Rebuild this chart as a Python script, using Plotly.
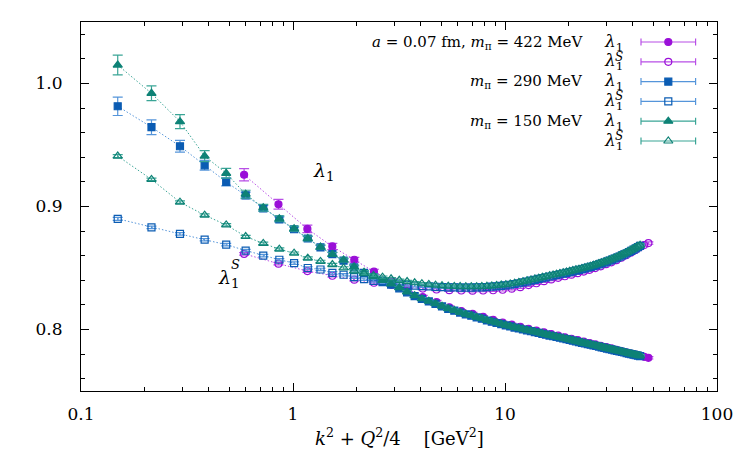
import plotly.graph_objects as go

# ---------------- data ----------------
x_grid = [0.149, 0.215, 0.293, 0.383, 0.484, 0.598, 0.724, 0.862, 1.012, 1.174,
          1.348, 1.534, 1.732, 1.942, 2.164, 2.398, 2.644, 2.902, 3.172, 3.454,
          3.748, 4.054, 4.372, 4.702, 5.045, 5.399, 5.765, 6.143, 6.533, 6.935,
          7.350, 7.776, 8.214, 8.664, 9.126, 9.601, 10.087, 10.585, 11.096, 11.618,
          12.152, 12.699, 13.257, 13.827, 14.410, 15.004, 15.610, 16.229, 16.859, 17.502,
          18.156, 18.823, 19.501, 20.192, 20.894, 21.609, 22.335, 23.074, 23.824, 24.587,
          25.361, 26.148, 26.946, 27.757, 28.580, 29.414, 30.261, 31.120, 31.990, 32.873,
          33.768, 34.674, 35.593, 36.524, 37.467, 38.421, 39.388, 40.367, 41.358, 42.361,
          43.375]

x_422 = [0.588, 0.854, 1.169, 1.533, 1.946, 2.409, 2.921, 3.482, 4.093, 4.752,
         5.462, 6.220, 7.028, 7.885, 8.791, 9.747, 10.752, 11.806, 12.910, 14.063,
         15.265, 16.516, 17.817, 19.167, 20.566, 22.015, 23.513, 25.060, 26.657, 28.302,
         29.998, 31.742, 33.536, 35.379, 37.271, 39.213, 41.204, 43.244, 45.333, 47.472]

# m_pi = 150 MeV
l1_150 = [1.015, 0.992, 0.969, 0.941, 0.927, 0.910, 0.899, 0.890, 0.882, 0.874,
          0.867, 0.861, 0.8565, 0.851, 0.8465, 0.843, 0.840, 0.837, 0.834, 0.8305,
          0.8275, 0.825, 0.823, 0.821, 0.819, 0.817, 0.8155, 0.814, 0.8125, 0.8115,
          0.810, 0.809, 0.8075, 0.8065, 0.8055, 0.8045, 0.8035, 0.8027, 0.8018, 0.801,
          0.8002, 0.7995, 0.7988, 0.7981, 0.7974, 0.7967, 0.7960, 0.7953, 0.7947, 0.7941,
          0.7935, 0.7929, 0.7923, 0.7917, 0.7911, 0.7905, 0.7899, 0.7894, 0.7888, 0.7883,
          0.7878, 0.7873, 0.7868, 0.7863, 0.7857, 0.7852, 0.7847, 0.7843, 0.7838, 0.7833,
          0.7828, 0.7824, 0.7819, 0.7815, 0.7810, 0.7806, 0.7801, 0.7797, 0.7793, 0.7789,
          0.7785]
l1_150_err = [0.008, 0.006, 0.0057, 0.0045, 0.004, 0.0032, 0.0027, 0.0024, 0.0021, 0.0019,
              0.0017, 0.0016, 0.0015, 0.0014, 0.0013, 0.0012, 0.0012, 0.0011, 0.0011, 0.001,
              0.001, 0.001, 0.001, 0.001, 0.001, 0.001, 0.001, 0.001, 0.001, 0.001,
              0.001, 0.001, 0.001, 0.001, 0.001, 0.001, 0.001, 0.001, 0.001, 0.001,
              0.001, 0.001, 0.001, 0.001, 0.001, 0.001, 0.001, 0.001, 0.001, 0.001,
              0.001, 0.001, 0.001, 0.001, 0.001, 0.001, 0.001, 0.001, 0.001, 0.001,
              0.001, 0.001, 0.001, 0.001, 0.001, 0.001, 0.001, 0.001, 0.001, 0.001,
              0.001, 0.001, 0.001, 0.001, 0.001, 0.001, 0.001, 0.001, 0.001, 0.001,
              0.001]
l1S_150 = [0.941, 0.922, 0.9035, 0.893, 0.885, 0.8756, 0.870, 0.8653, 0.862, 0.858,
           0.8553, 0.8528, 0.850, 0.8475, 0.8455, 0.844, 0.8425, 0.8412, 0.840, 0.839,
           0.838, 0.8372, 0.8366, 0.836, 0.8356, 0.8352, 0.835, 0.8349, 0.8348, 0.8348,
           0.8348, 0.8349, 0.8351, 0.8354, 0.8357, 0.8361, 0.8365, 0.837, 0.8376, 0.8382,
           0.8389, 0.8396, 0.8403, 0.841, 0.8417, 0.8424, 0.843, 0.8437, 0.8443, 0.8449,
           0.8455, 0.8461, 0.8467, 0.8473, 0.8479, 0.8485, 0.8491, 0.8497, 0.8503, 0.8509,
           0.8515, 0.8522, 0.8529, 0.8536, 0.8543, 0.855, 0.8558, 0.8566, 0.8574, 0.8582,
           0.859, 0.8599, 0.8608, 0.8617, 0.8626, 0.8636, 0.8646, 0.8656, 0.8666, 0.8676,
           0.8686]
l1S_150_err = [0.0012, 0.001, 0.001, 0.001, 0.001, 0.001, 0.001, 0.001, 0.001, 0.001,
               0.001, 0.001, 0.001, 0.001, 0.001, 0.001, 0.001, 0.001, 0.001, 0.001,
               0.001, 0.001, 0.001, 0.001, 0.001, 0.001, 0.001, 0.001, 0.001, 0.001,
               0.001, 0.001, 0.001, 0.001, 0.001, 0.001, 0.001, 0.001, 0.001, 0.001,
               0.001, 0.001, 0.001, 0.001, 0.001, 0.001, 0.001, 0.001, 0.001, 0.001,
               0.001, 0.001, 0.001, 0.001, 0.001, 0.001, 0.001, 0.001, 0.001, 0.001,
               0.001, 0.001, 0.001, 0.001, 0.001, 0.001, 0.001, 0.001, 0.001, 0.001,
               0.001, 0.001, 0.001, 0.001, 0.001, 0.001, 0.001, 0.001, 0.001, 0.001,
               0.001]

# m_pi = 290 MeV
l1_290 = [0.9815, 0.9645, 0.949, 0.9335, 0.920, 0.909, 0.8985, 0.8895, 0.8815, 0.874,
          0.8668, 0.8612, 0.856, 0.8505, 0.846, 0.8425, 0.8395, 0.8365, 0.8335, 0.8302,
          0.8272, 0.8248, 0.8228, 0.8208, 0.8188, 0.8168, 0.8153, 0.8138, 0.8123, 0.8112,
          0.8098, 0.8088, 0.8073, 0.8063, 0.8053, 0.8043, 0.8033, 0.8025, 0.8016, 0.8008,
          0.8000, 0.7993, 0.7986, 0.7979, 0.7972, 0.7965, 0.7958, 0.7951, 0.7945, 0.7939,
          0.7933, 0.7927, 0.7921, 0.7915, 0.7909, 0.7903, 0.7897, 0.7892, 0.7886, 0.7881,
          0.7876, 0.7871, 0.7866, 0.7861, 0.7855, 0.7850, 0.7845, 0.7841, 0.7836, 0.7831,
          0.7826, 0.7822, 0.7817, 0.7813, 0.7808, 0.7804, 0.7799, 0.7795, 0.7791, 0.7787,
          0.7783]
l1_290_err = [0.0075, 0.006, 0.0048, 0.004, 0.0032, 0.0027, 0.0023, 0.002, 0.0018, 0.0017,
              0.0016, 0.0015, 0.0014, 0.0013, 0.0012, 0.0012, 0.0011, 0.0011, 0.001, 0.001,
              0.001, 0.001, 0.001, 0.001, 0.001, 0.001, 0.001, 0.001, 0.001, 0.001,
              0.001, 0.001, 0.001, 0.001, 0.001, 0.001, 0.001, 0.001, 0.001, 0.001,
              0.001, 0.001, 0.001, 0.001, 0.001, 0.001, 0.001, 0.001, 0.001, 0.001,
              0.001, 0.001, 0.001, 0.001, 0.001, 0.001, 0.001, 0.001, 0.001, 0.001,
              0.001, 0.001, 0.001, 0.001, 0.001, 0.001, 0.001, 0.001, 0.001, 0.001,
              0.001, 0.001, 0.001, 0.001, 0.001, 0.001, 0.001, 0.001, 0.001, 0.001,
              0.001]
l1S_290 = [0.890, 0.883, 0.8777, 0.873, 0.869, 0.8642, 0.860, 0.8567, 0.854, 0.850,
           0.8488, 0.846, 0.8445, 0.8425, 0.841, 0.8395, 0.8385, 0.8375, 0.8368, 0.8362,
           0.8357, 0.8353, 0.835, 0.8347, 0.8345, 0.8343, 0.8342, 0.8341, 0.8341, 0.8341,
           0.8342, 0.8343, 0.8345, 0.8348, 0.8351, 0.8355, 0.8359, 0.8364, 0.837, 0.8376,
           0.8383, 0.839, 0.8397, 0.8404, 0.8411, 0.8418, 0.8424, 0.8431, 0.8437, 0.8443,
           0.8449, 0.8455, 0.8461, 0.8467, 0.8473, 0.8479, 0.8485, 0.8491, 0.8497, 0.8503,
           0.8509, 0.8516, 0.8523, 0.853, 0.8537, 0.8544, 0.8552, 0.856, 0.8568, 0.8576,
           0.8584, 0.8593, 0.8602, 0.8611, 0.862, 0.863, 0.864, 0.865, 0.866, 0.867,
           0.868]
l1S_290_err = l1S_150_err

# m_pi = 422 MeV
l1_422 = [0.9258, 0.9018, 0.8818, 0.8675, 0.8567, 0.847, 0.8395, 0.8325, 0.8263, 0.8222,
          0.818, 0.815, 0.8127, 0.8103, 0.8078, 0.8057, 0.804, 0.8022, 0.8005, 0.7991,
          0.7977, 0.7963, 0.795, 0.7937, 0.7925, 0.7913, 0.7901, 0.789, 0.7879, 0.7868,
          0.7857, 0.7846, 0.7835, 0.7824, 0.7814, 0.7804, 0.7795, 0.7786, 0.7778, 0.777]
l1_422_err = [0.005, 0.004, 0.003, 0.0025, 0.002, 0.002, 0.0018, 0.0016, 0.0015, 0.0014,
              0.0013, 0.0012, 0.0012, 0.0011, 0.0011, 0.001, 0.001, 0.001, 0.001, 0.001,
              0.001, 0.001, 0.001, 0.001, 0.001, 0.001, 0.001, 0.001, 0.001, 0.001,
              0.001, 0.001, 0.001, 0.001, 0.001, 0.001, 0.001, 0.001, 0.001, 0.001]
l1S_422 = [0.8615, 0.8535, 0.8475, 0.8437, 0.8405, 0.838, 0.8362, 0.8345, 0.8333, 0.8325,
           0.832, 0.8317, 0.8316, 0.8317, 0.8319, 0.8323, 0.8332, 0.8344, 0.8361, 0.8376,
           0.8393, 0.8407, 0.842, 0.8433, 0.8446, 0.8458, 0.8471, 0.8485, 0.8499, 0.8514,
           0.8531, 0.8546, 0.8564, 0.8584, 0.8604, 0.8625, 0.8646, 0.867, 0.8687, 0.8703]
l1S_422_err = [0.001, 0.001, 0.001, 0.001, 0.001, 0.001, 0.001, 0.001, 0.001, 0.001,
               0.001, 0.001, 0.001, 0.001, 0.001, 0.001, 0.001, 0.001, 0.001, 0.001,
               0.001, 0.001, 0.001, 0.001, 0.001, 0.001, 0.001, 0.001, 0.001, 0.001,
               0.001, 0.001, 0.001, 0.001, 0.001, 0.001, 0.001, 0.001, 0.001, 0.001]

x_tickvals = [0.1, 1, 10, 100]
x_ticktext = ["0.1", "1", "10", "100"]
y_tickvals = [0.8, 0.9, 1.0]
y_ticktext = ["0.8", "0.9", "1.0"]

legend_labels = ["<i>a</i> = 0.07 fm, <i>m</i><sub>π</sub> = 422 MeV", "",
                 "<i>m</i><sub>π</sub> = 290 MeV", "",
                 "<i>m</i><sub>π</sub> = 150 MeV", ""]

# ---------------- styles ----------------
PURPLE, PURPLE_L = "#9a0fd8", "#b84fe6"
BLUE, BLUE_L = "#0b5cb3", "#5595da"
TEAL, TEAL_L = "#0e8276", "#3aa596"
FONT = "DejaVu Serif"

series = [
    (x_422, l1_422, l1_422_err, "circle", PURPLE, PURPLE_L),
    (x_422, l1S_422, l1S_422_err, "circle-open", PURPLE, PURPLE_L),
    (x_grid, l1_290, l1_290_err, "square", BLUE, BLUE_L),
    (x_grid, l1S_290, l1S_290_err, "square-open", BLUE, BLUE_L),
    (x_grid, l1_150, l1_150_err, "triangle-up", TEAL, TEAL_L),
    (x_grid, l1S_150, l1S_150_err, "triangle-up-open", TEAL, TEAL_L),
]

fig = go.Figure()
for xs, ys, es, sym, c, cl in series:
    fig.add_trace(go.Scatter(
        x=xs, y=ys, mode="lines+markers",
        line=dict(color=cl, width=1, dash="1.5px,2px"),
        marker=dict(symbol=sym, size=7 if "triangle" not in sym else 8, color=c,
                    line=dict(color=c, width=1.2)),
        error_y=dict(type="data", array=es, visible=True, color=cl, thickness=1.2, width=5),
        showlegend=False, cliponaxis=True,
    ))

# legend (overlay axes in pixel units)
row_y = [42, 61.8, 81.6, 101.4, 121.2, 141]
for k, (xs, ys, es, sym, c, cl) in enumerate(series):
    fig.add_trace(go.Scatter(
        x=[668.3], y=[row_y[k]], xaxis="x2", yaxis="y2", mode="markers",
        marker=dict(symbol=sym, size=7 if "triangle" not in sym else 8, color=c,
                    line=dict(color=c, width=1.2)),
        error_x=dict(type="constant", value=27.3, color=cl, thickness=1.2, width=3.5),
        showlegend=False, hoverinfo="skip",
    ))

ann = []
for k, lab in enumerate(legend_labels):
    if lab:
        ann.append(dict(x=585, y=row_y[k], xref="x2", yref="y2", text=lab, showarrow=False,
                        xanchor="right", yanchor="middle", font=dict(family=FONT, size=15, color="black")))
    ann.append(dict(x=602, y=row_y[k], xref="x2", yref="y2", text="<i>λ</i><sub>1</sub>",
                    showarrow=False, xanchor="left", yanchor="middle",
                    font=dict(family=FONT, size=17, color="black")))
    if k % 2 == 1:
        ann.append(dict(x=613, y=row_y[k] - 5, xref="x2", yref="y2", text="<i>S</i>",
                        showarrow=False, xanchor="left", yanchor="middle",
                        font=dict(family=FONT, size=12, color="black")))

# in-plot labels
ann.append(dict(x=311, y=171, xref="x2", yref="y2", text="<i>λ</i><sub>1</sub>", showarrow=False,
                xanchor="left", yanchor="middle", font=dict(family=FONT, size=19, color="black")))
ann.append(dict(x=216, y=278, xref="x2", yref="y2", text="<i>λ</i><sub>1</sub>", showarrow=False,
                xanchor="left", yanchor="middle", font=dict(family=FONT, size=19, color="black")))
ann.append(dict(x=229, y=264, xref="x2", yref="y2", text="<i>S</i>", showarrow=False,
                xanchor="left", yanchor="middle", font=dict(family=FONT, size=13, color="black")))
# x-axis title
ann.append(dict(x=0.5, y=-0.125, xref="paper", yref="paper",
                text="<i>k</i><sup>2</sup> + <i>Q</i><sup>2</sup>/4 &nbsp;&nbsp; [GeV<sup>2</sup>]",
                showarrow=False, xanchor="center", yanchor="middle",
                font=dict(family=FONT, size=18, color="black")))

axis_common = dict(showline=True, linecolor="black", linewidth=1.2, mirror="ticks",
                   ticks="inside", ticklen=8, tickwidth=1, tickcolor="black",
                   showgrid=False, zeroline=False,
                   tickfont=dict(family=FONT, size=17, color="black"))

fig.update_layout(
    width=750, height=455,
    margin=dict(l=81, r=33, t=22, b=64),
    paper_bgcolor="white", plot_bgcolor="white",
    font=dict(family=FONT),
    xaxis=dict(type="log", range=[-1, 2], tickvals=x_tickvals, ticktext=x_ticktext,
               minor=dict(ticks="inside", ticklen=4, tickcolor="black", dtick="D1", showgrid=False),
               ticklabelstandoff=7, **axis_common),
    yaxis=dict(range=[0.75, 1.05], tickvals=y_tickvals, ticktext=y_ticktext,
               minor=dict(ticks="inside", ticklen=4, tickcolor="black", dtick=0.02, tick0=0, showgrid=False),
               ticklabelstandoff=14, **axis_common),
    xaxis2=dict(overlaying="x", range=[81, 717], visible=False, fixedrange=True),
    yaxis2=dict(overlaying="y", range=[391, 22], visible=False, fixedrange=True),
    annotations=ann,
    showlegend=False,
)

fig.write_html("out.html")
